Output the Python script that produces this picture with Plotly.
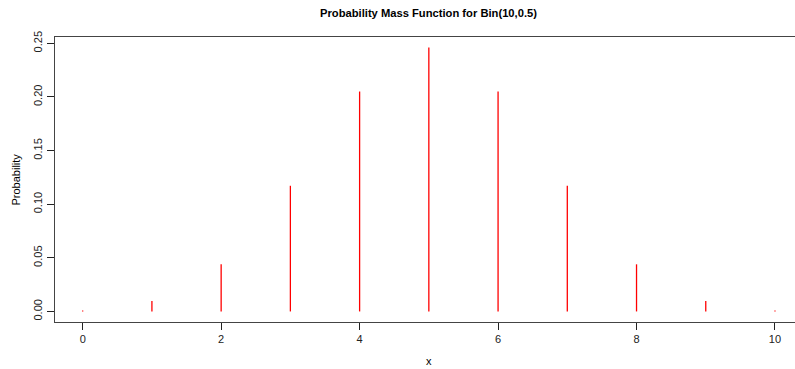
import plotly.graph_objects as go

x_vals = [0, 1, 2, 3, 4, 5, 6, 7, 8, 9, 10]
probs = [0.000977, 0.009766, 0.043945, 0.117188, 0.205078, 0.246094,
         0.205078, 0.117188, 0.043945, 0.009766, 0.000977]
x_ticks = [0, 2, 4, 6, 8, 10]
y_ticks = [0.00, 0.05, 0.10, 0.15, 0.20, 0.25]
y_tick_text = ["0.00", "0.05", "0.10", "0.15", "0.20", "0.25"]

xs, ys = [], []
for xv, p in zip(x_vals, probs):
    xs += [xv, xv, None]
    ys += [0, p, None]

W, H = 795, 369
L, T, B = 55, 37, 47
FONT = "Liberation Sans, Arial, sans-serif"

fig = go.Figure()
fig.add_trace(go.Scatter(x=xs, y=ys, mode="lines",
                         line=dict(color="#ff0000", width=1.3),
                         hoverinfo="skip", showlegend=False))

fig.update_layout(
    width=W, height=H,
    margin=dict(l=L, r=0, t=T, b=B),
    plot_bgcolor="white", paper_bgcolor="white",
    font=dict(family=FONT, size=11, color="#000"),
    title=dict(text="<b>Probability Mass Function for Bin(10,0.5)</b>",
               xref="container", yref="container",
               x=428.5 / W, y=1 - 13 / H, xanchor="center", yanchor="middle",
               font=dict(family=FONT, size=11.2, color="#000")),
    xaxis=dict(range=[-0.4, 10.289], tickvals=x_ticks, ticks="outside",
               ticklen=7, tickwidth=1, tickcolor="#222",
               showline=True, linecolor="#444", linewidth=1.3, mirror=True,
               showgrid=False, zeroline=False,
               tickfont=dict(size=11, color="#222")),
    yaxis=dict(range=[-0.00984, 0.2559], tickvals=y_ticks, ticktext=y_tick_text,
               ticks="outside", ticklen=7, tickwidth=1, tickcolor="#222",
               tickangle=-90,
               showline=True, linecolor="#444", linewidth=1.3,
               showgrid=False, zeroline=False,
               tickfont=dict(size=11, color="#222")),
    annotations=[
        dict(text="x", xref="paper", yref="paper", x=(429 - L) / (W - L),
             y=-(361 - (H - B)) / (H - T - B), xanchor="center", yanchor="middle",
             showarrow=False, font=dict(size=11, color="#000")),
        dict(text="Probability", xref="paper", yref="paper",
             x=-(L - 15) / (W - L), y=0.5, xanchor="center", yanchor="middle",
             textangle=-90, showarrow=False, font=dict(size=11, color="#000")),
    ],
)

fig.write_html("out.html", config={"displayModeBar": False},
               post_script="document.body.style.margin='0';document.body.style.overflow='hidden';")
